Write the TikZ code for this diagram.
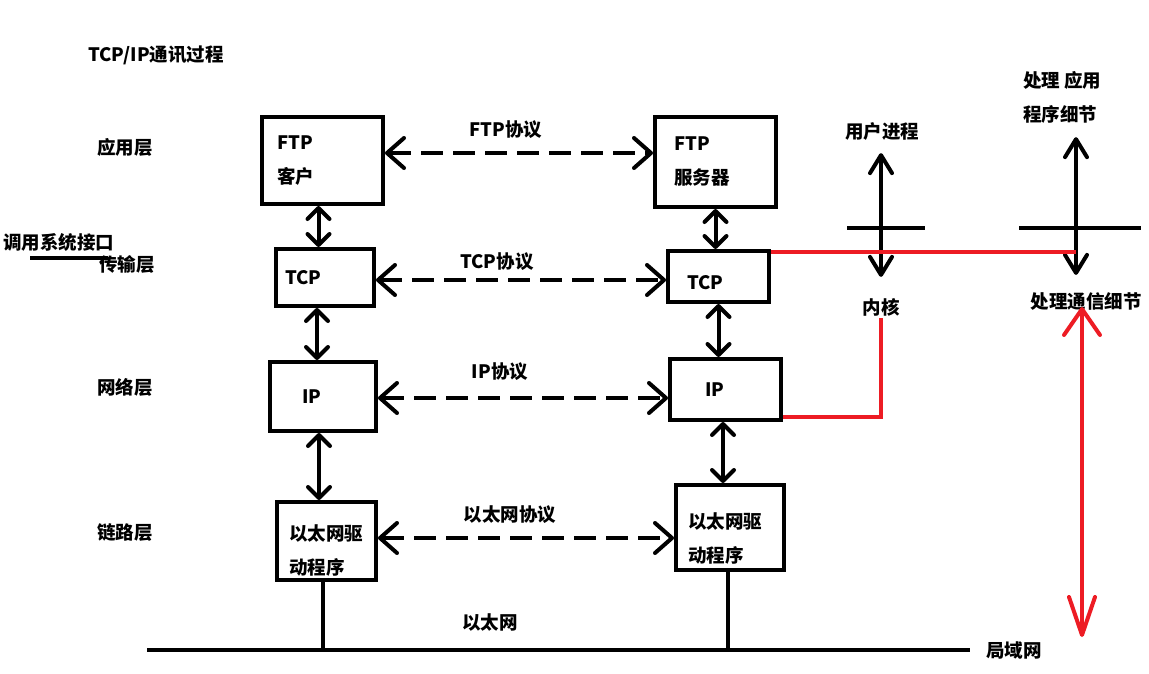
\documentclass[tikz,border=0pt]{standalone}
\usepackage{fontspec}
\setmainfont{Noto Sans CJK SC}
\usetikzlibrary{arrows.meta}

\definecolor{paintred}{RGB}{237,28,36}
\newcommand{\lblfont}{\fontsize{18.5}{34}\selectfont\bfseries}

\tikzset{
  layerbox/.style={draw, line width=4pt, align=left, inner ysep=0pt, font=\lblfont},
  lbl/.style={font=\lblfont, inner sep=2pt},
  wire/.style={line width=4pt},
  stack/.style={line width=4pt, {Straight Barb[length=11pt,width=22pt,round]}-{Straight Barb[length=11pt,width=22pt,round]}},
  peer/.style={line width=4pt, dash pattern=on 22pt off 10pt, {Straight Barb[length=17pt,width=30pt,round]}-{Straight Barb[length=17pt,width=30pt,round]}},
  updown/.style={line width=4pt, {Straight Barb[length=18pt,width=22pt,round]}-{Straight Barb[length=18pt,width=22pt,round]}},
  redline/.style={line width=4pt, draw=paintred},
  redarrow/.style={line width=4pt, draw=paintred, {Straight Barb[length=38pt,width=26pt,round]}-{Straight Barb[length=26pt,width=36pt,round]}},
}

\begin{document}
\begin{tikzpicture}[x=1pt,y=-1pt]
\useasboundingbox (0,0) rectangle (1149,673);

% layer names
\node[lbl] (title) at (156,55) {TCP/IP通讯过程};
\node[lbl] (appl) at (125,147) {应用层};
\node[lbl] (syscall) at (58.5,242) {调用系统接口};
\coordinate (sysw) at (30,258);
\coordinate (syse) at (108,258);
\draw[wire] (sysw) -- (syse);
\node[lbl] (trans) at (127,264) {传输层};
\node[lbl] (netl) at (125,387) {网络层};
\node[lbl] (link) at (125,533) {链路层};

% client side
\node[layerbox, text width=91pt, inner xsep=15pt, minimum height=87pt] (ftpc) at (322.5,160.5) {FTP\\客户};
\node[layerbox, text width=80pt, inner xsep=9pt, minimum height=57pt] (tcpl) at (325,277.5) {TCP};
\node[layerbox, text width=42pt, inner xsep=32pt, minimum height=69pt] (ipl) at (323,396.5) {IP};
\node[layerbox, text width=75pt, inner xsep=12pt, minimum height=78pt, text height=34pt] (ethl) at (326.5,541) {以太网驱\\动程序};

% server side
\node[layerbox, text width=83pt, inner xsep=19pt, minimum height=90pt] (ftps) at (715.5,162) {FTP\\服务器};
\node[layerbox, text width=63pt, inner xsep=19pt, minimum height=51pt, text height=27pt] (tcpr) at (718.5,276.5) {TCP};
\node[layerbox, text width=41pt, inner xsep=35pt, minimum height=61pt] (ipr) at (725.5,389.5) {IP};
\node[layerbox, text width=84pt, inner xsep=12pt, minimum height=85pt, text height=38pt] (ethr) at (730,527.5) {以太网驱\\动程序};

% up and down the stack
\draw[stack] ([xshift=-4pt]ftpc.south) -- ([xshift=-4pt]ftpc.south |- tcpl.north);
\draw[stack] ([xshift=-8pt]tcpl.south) -- ([xshift=-8pt]tcpl.south |- ipl.north);
\draw[stack] ([xshift=-4pt]ipl.south) -- ([xshift=-4pt]ipl.south |- ethl.north);
\draw[stack] (ftps.south) -- (ftps.south |- tcpr.north);
\draw[stack] (tcpr.south) -- (tcpr.south |- ipr.north);
\draw[stack] ([xshift=-2.5pt]ipr.south) -- ([xshift=-2.5pt]ipr.south |- ethr.north);

% peer protocols
\node[lbl] (ftpp) at (506,130) {FTP协议};
\node[lbl] (tcpp) at (497,262) {TCP协议};
\node[lbl] (ipp) at (500,372) {IP协议};
\node[lbl] (ethp) at (510,515) {以太网协议};
\draw[peer] ([yshift=7.5pt]ftpc.east) -- ([yshift=7.5pt]ftpc.east -| ftps.west);
\draw[peer] ([yshift=-2.5pt]tcpl.east) -- ([yshift=-2.5pt]tcpl.east -| tcpr.west);
\draw[peer] ([yshift=-1.5pt]ipl.east) -- ([yshift=-1.5pt]ipl.east -| ipr.west);
\draw[peer] ([yshift=3pt]ethl.east) -- ([yshift=3pt]ethl.east -| ethr.west);

% the wire
\coordinate (busw) at (147,650);
\coordinate (buse) at (970,650);
\draw[wire] (busw) -- (buse);
\draw[wire] ([xshift=-4pt]ethl.south) -- ([xshift=-4pt]ethl.south |- busw);
\draw[wire] ([xshift=-2pt]ethr.south) -- ([xshift=-2pt]ethr.south |- busw);
\node[lbl] (eth) at (490,622) {以太网};
\node[lbl] (lan) at (1014,650) {局域网};

% user / kernel
\node[lbl] (uproc) at (882,131) {用户进程};
\node[lbl] (kern) at (881,307) {内核};
\coordinate (ksplit) at (881,228);
\draw[wire] ([xshift=-34pt]ksplit) -- ([xshift=44pt]ksplit);
\draw[updown, shorten <=11pt, shorten >=19pt] (ksplit |- uproc.south) -- (ksplit |- kern.north);

\node[lbl, align=left, anchor=west] (appd) at (1021,97) {处理 应用\\程序细节};
\node[lbl] (commd) at (1086,301) {处理通信细节};
\coordinate (vsplit) at (1076,228);
\draw[wire] ([xshift=-57pt]vsplit) -- ([xshift=65pt]vsplit);
\draw[updown, shorten <=12pt, shorten >=15pt] (vsplit |- appd.south) -- (vsplit |- commd.north);

% red marks
\draw[redline] ([yshift=-3pt]tcpr.north east) -- ([yshift=-3pt]tcpr.north east -| vsplit);
\draw[redline] ([yshift=5pt]ipr.south east) -| (kern.south);
\coordinate (rbot) at (1082,637);
\draw[redarrow, shorten >=6pt] (rbot) -- (rbot |- commd.center);
\end{tikzpicture}
\end{document}
